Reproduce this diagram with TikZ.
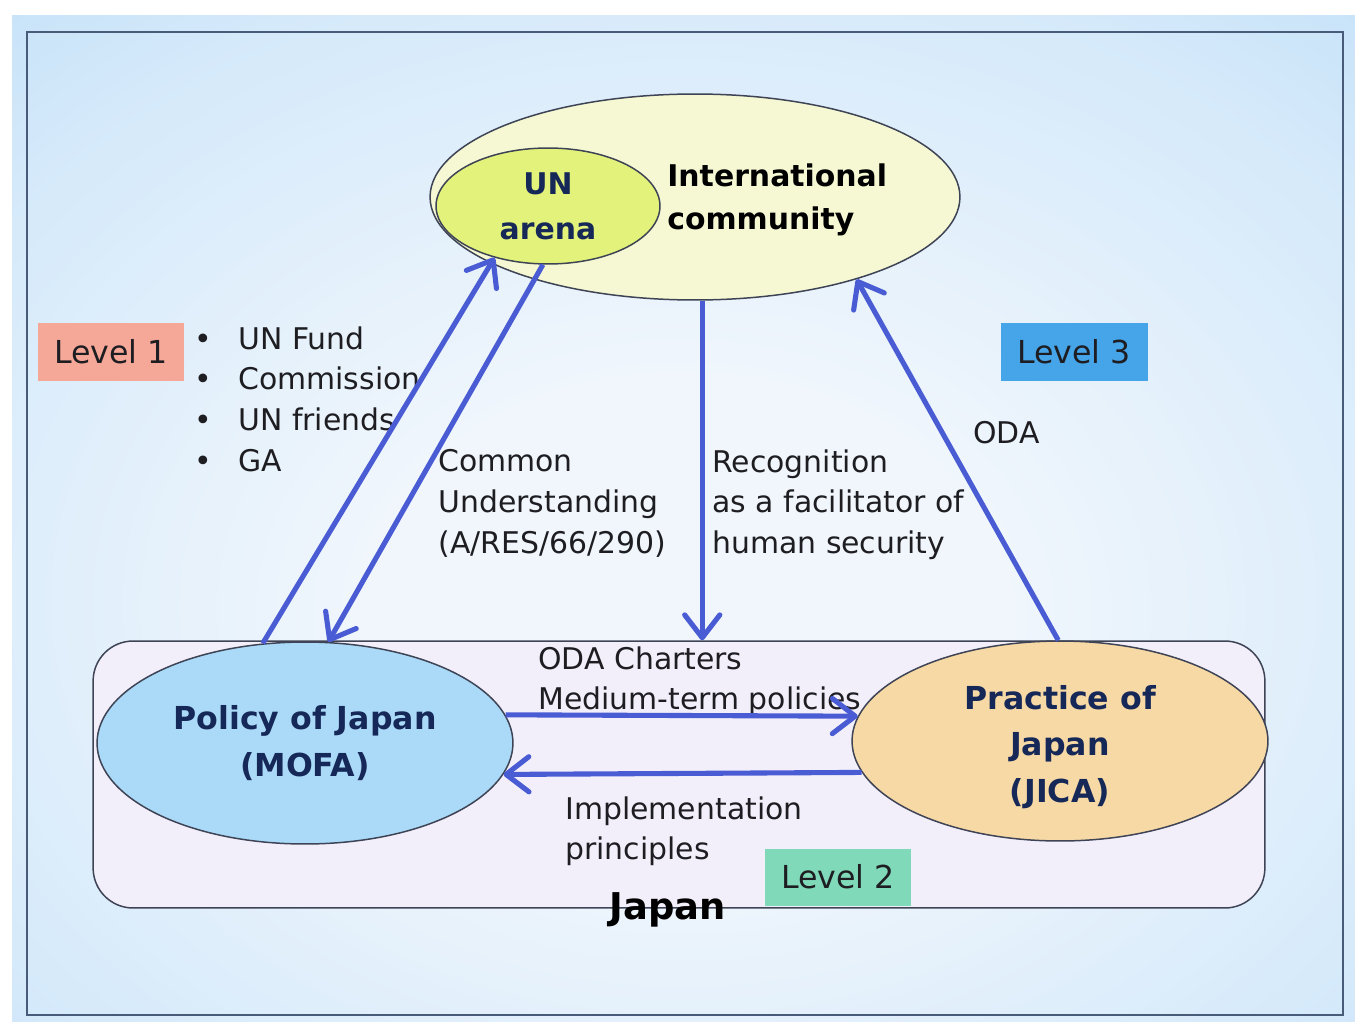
\documentclass[tikz,border=0pt]{standalone}
\usepackage{fontspec}
\setmainfont{DejaVu Sans}
\usetikzlibrary{arrows.meta,shapes.geometric,positioning}
\definecolor{bgblue}{RGB}{172,212,245}
\definecolor{bgmid}{RGB}{212,233,250}
\definecolor{bgcore}{RGB}{240,246,252}
\definecolor{framegray}{RGB}{72,92,122}
\definecolor{edgegray}{RGB}{62,68,86}
\definecolor{arrblue}{RGB}{74,92,212}
\definecolor{intlfill}{RGB}{245,248,210}
\definecolor{unfill}{RGB}{226,242,122}
\definecolor{policyfill}{RGB}{170,218,247}
\definecolor{practicefill}{RGB}{247,217,165}
\definecolor{japanfill}{RGB}{242,239,250}
\definecolor{lvlone}{RGB}{246,168,152}
\definecolor{lvltwo}{RGB}{128,217,184}
\definecolor{lvlthree}{RGB}{70,164,232}
\definecolor{navy}{RGB}{22,40,88}
\definecolor{textdark}{RGB}{30,30,34}
\pgfdeclareradialshading{slidebg}{\pgfpoint{0bp}{-6bp}}{color(0bp)=(bgcore); color(12bp)=(bgcore); color(32bp)=(bgmid); color(52bp)=(bgblue); color(75bp)=(bgblue)}

\begin{document}
\begin{tikzpicture}[x=0.02cm, y=-0.02cm,
  ell/.style={ellipse, draw=edgegray, line width=0.85pt, inner sep=0pt, align=center},
  lvl/.style={rectangle, minimum width=2.94cm, minimum height=1.16cm, inner sep=0pt, text=textdark, font=\fontsize{18pt}{22pt}\selectfont},
  txt/.style={anchor=north west, align=left, inner sep=0pt, text=textdark, font=\fontsize{17pt}{23.2pt}\selectfont},
  arr/.style={arrblue, line width=2.9pt, -{Straight Barb[round, length=13pt, width=20pt]}}
]
\useasboundingbox (0,0) rectangle (1355,1021);
\fill[white] (0,0) rectangle (1355,1021);
\shade[shading=slidebg] (12,15) rectangle (1355,1021);
\draw[framegray, line width=1.1pt] (27,32) rectangle (1343,1015);

\node[draw=edgegray, line width=0.85pt, fill=japanfill, rounded corners=0.8cm, minimum width=23.44cm, minimum height=5.34cm] (japan) at (679,774.5) {};
\node[ell, fill=intlfill, minimum width=10.6cm, minimum height=4.12cm] (intl) at (695,197) {};
\node[ell, fill=unfill, minimum width=4.48cm, minimum height=2.32cm, text=navy, font=\bfseries\fontsize{17pt}{25.5pt}\selectfont] (un) at (548,206) {UN\\arena};
\node[anchor=north west, align=left, inner sep=0pt, text=black, font=\bfseries\fontsize{17pt}{25pt}\selectfont] (intltxt) at (667,163) {International\\community};
\node[ell, fill=policyfill, minimum width=8.32cm, minimum height=4.04cm, text=navy, font=\bfseries\fontsize{18pt}{27.2pt}\selectfont] (policy) at (305,743) {Policy of Japan\\(MOFA)};
\node[ell, fill=practicefill, minimum width=8.32cm, minimum height=4.0cm] (practice) at (1060,741) {};
\node[text=navy, align=center, inner sep=0pt, font=\bfseries\fontsize{18pt}{26.4pt}\selectfont] (practicetxt) at (1060,747) {Practice of\\Japan\\(JICA)};

\node[lvl, fill=lvlone] (lvl1) at (111,352) {Level 1};
\node[lvl, fill=lvlthree] (lvl3) at (1074,352) {Level 3};
\node[lvl, fill=lvltwo, minimum height=1.14cm] (lvl2) at (838,877) {Level 2};
\node[inner sep=0pt, text=black, font=\bfseries\fontsize{21pt}{25pt}\selectfont] (japantxt) at (668,910) {Japan};

\node[txt] (forums) at (194,326) {\makebox[0.88cm][l]{•}UN Fund\\\makebox[0.88cm][l]{•}Commission\\\makebox[0.88cm][l]{•}UN friends\\\makebox[0.88cm][l]{•}GA};
\node[txt] (common) at (438,449) {Common\\Understanding\\(A/RES/66/290)};
\node[txt] (recog) at (712,449) {Recognition\\as a facilitator of\\human security};
\node[txt, anchor=west] (oda) at (973,433) {ODA};
\node[txt] (charter) at (538,646) {ODA Charters\\Medium-term policies};
\node[txt] (implem) at (565,796) {Implementation\\principles};

\draw[arr] (policy.113) -- (un.224);
\draw[arr] (un.265) -- (policy.77);
\draw[arr] (intl.274) -- (intl.274 |- japan.north);
\draw[arr] (practice.91) -- (intl.333);
\draw[arr] (policy.8) -- (practice.173);
\draw[arr] (practice.189) -- (policy.351);
\end{tikzpicture}
\end{document}
